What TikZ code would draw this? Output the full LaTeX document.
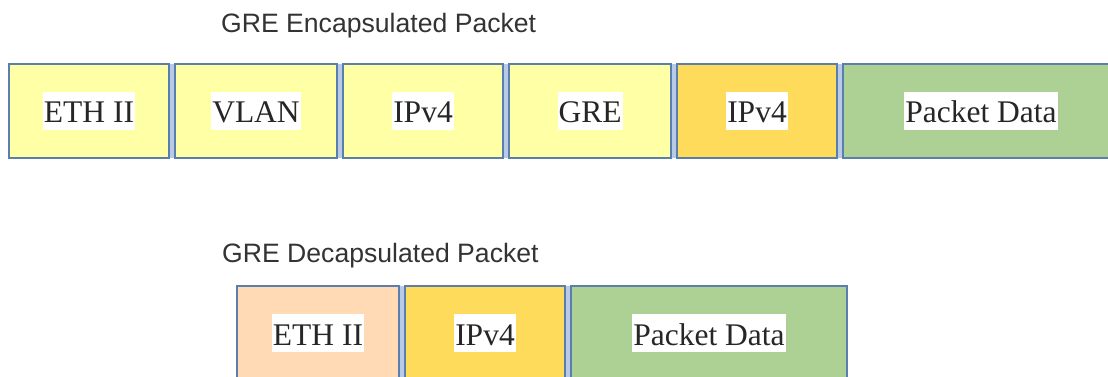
\documentclass[tikz,border=0pt]{standalone}
\usepackage{fontspec}
\setmainfont{Liberation Serif}
\newfontfamily\headfont{Liberation Sans}
\usepackage{xcolor}
\usetikzlibrary{positioning, backgrounds}

\definecolor{hdrfill}{HTML}{FFFFA6}
\definecolor{ipfill}{HTML}{FFDB5C}
\definecolor{datafill}{HTML}{ADD094}
\definecolor{ethfill}{HTML}{FFDAB5}
\definecolor{rimblue}{HTML}{5A7FAE}
\definecolor{gapblue}{HTML}{B7CAE6}
\definecolor{headgray}{HTML}{333333}

\tikzset{
    field/.style={draw=rimblue, line width=2.4pt, outer sep=0pt, inner sep=0pt,
        minimum height=94pt},
    tag/.style={fill=white, inner sep=0pt, inner xsep=1pt, text height=31pt,
        text depth=7pt, text=black!85, font=\fontsize{31.5}{36}\selectfont},
    caption/.style={anchor=base west, inner sep=0pt, text=headgray,
        font=\headfont\fontsize{26.6}{30}\selectfont}
}

\begin{document}
\begin{tikzpicture}[x=1pt, y=1pt, node distance=6pt]
    \useasboundingbox (0,0) rectangle (1108,-377);
    % Encapsulated packet
    \node[caption] (encCap) at (221,-33) {GRE Encapsulated Packet};
    \node[field, fill=hdrfill, minimum width=160pt, anchor=north west] (eth) at (9,-64) {};
    \node[field, fill=hdrfill, minimum width=162pt, right=of eth] (vlan) {};
    \node[field, fill=hdrfill, minimum width=160pt, right=of vlan] (ipo) {};
    \node[field, fill=hdrfill, minimum width=162pt, right=of ipo] (gre) {};
    \node[field, fill=ipfill, minimum width=160pt, right=of gre] (ipi) {};
    \node[field, fill=datafill, minimum width=276pt, right=of ipi] (data) {};
    \node[tag] (ethT) at (eth) {ETH II};
    \node[tag] (vlanT) at (vlan) {VLAN};
    \node[tag] (ipoT) at (ipo) {IPv4};
    \node[tag] (greT) at (gre) {GRE};
    \node[tag] (ipiT) at (ipi) {IPv4};
    \node[tag] (dataT) at (data) {Packet Data};
    % Decapsulated packet
    \node[caption] (decCap) at (222,-262) {GRE Decapsulated Packet};
    \node[field, fill=ethfill, minimum width=162pt, anchor=north west] (eth2) at (237,-286) {};
    \node[field, fill=ipfill, minimum width=160pt, right=of eth2] (ip2) {};
    \node[field, fill=datafill, minimum width=276pt, right=of ip2] (data2) {};
    \node[tag] (eth2T) at (eth2) {ETH II};
    \node[tag] (ip2T) at (ip2) {IPv4};
    \node[tag] (data2T) at (data2) {Packet Data};
    % light strips between the fields
    \begin{scope}[on background layer]
        \fill[gapblue] (eth.north west) rectangle (data.south east);
        \fill[gapblue] (eth2.north west) rectangle (data2.south east);
    \end{scope}
\end{tikzpicture}
\end{document}
